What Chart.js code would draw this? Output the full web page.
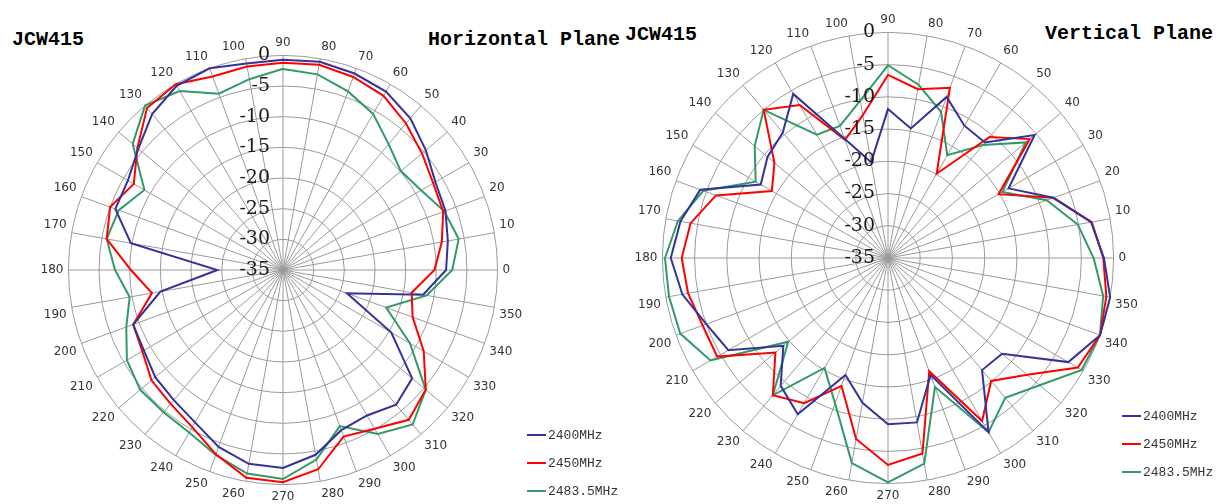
<!DOCTYPE html>
<html>
<head>
<meta charset="utf-8">
<script src="https://cdn.jsdelivr.net/npm/chart.js@4.4.0/dist/chart.umd.min.js"></script>
<style>
  html, body { margin: 0; padding: 0; background: #fff; }
  body { width: 1222px; height: 504px; position: relative; overflow: hidden; }
  .box { position: absolute; top: 0; height: 504px; }
  .title { position: absolute; font-family: 'Liberation Mono', monospace; font-weight: bold; font-size: 20px; line-height: 20px; color: #000; white-space: nowrap; }
  .legend { position: absolute; font-family: 'Liberation Mono', monospace; font-size: 13px; color: #333; }
  .legend div { height: 28px; display: flex; align-items: center; }
  .legend .line { display: inline-block; width: 19px; height: 2px; margin-right: 2px; }
</style>
</head>
<body>
<div class="title" style="left:12px; top:30px;">JCW415</div>
<div class="title" style="left:428px; top:30px;">Horizontal Plane</div>
<div class="title" style="left:625px; top:25px;">JCW415</div>
<div class="title" style="left:1045px; top:24px;">Vertical Plane</div>

<div class="box" style="left:0; width:566px;"><canvas id="hor"></canvas></div>
<div class="box" style="left:588px; width:600px;"><canvas id="ver"></canvas></div>

<div class="legend" id="legHor" style="left:527px; top:421px;"></div>
<div class="legend" id="legVer" style="left:1122px; top:402px;"></div>

<script>
// angles in degrees, data in dB
const angles = [0, 10, 20, 30, 40, 50, 60, 70, 80, 90, 100, 110, 120, 130, 140, 150, 160, 170,
                180, 190, 200, 210, 220, 230, 240, 250, 260, 270, 280, 290, 300, 310, 320, 330, 340, 350];

const hor2400 = [-8.4, -7.7, -6.8, -6.3, -4.6, -2.7, -1.4, -0.9, -0.5, -0.7, -0.8, 0, -0.3, -1.8, -4.2, -5.8, -5.9, -9.8,
                 -24.3, -14.7, -9.0, -8.8, -7.8, -7.3, -6.3, -4.3, -2.9, -2.7, -4.4, -7.2, -7.6, -6.3, -7.5, -14.6, -23.9, -11.8];
const hor2450 = [-10.3, -8.7, -7.2, -6.7, -5.4, -3.8, -2.2, -1.5, -1.0, -1.2, -1.3, -1.4, 0, -0.5, -4.0, -6.9, -5.0, -5.8,
                 -10.2, -13.3, -9.0, -8.5, -7.0, -6.5, -5.4, -3.0, -0.6, -0.4, -2.0, -6.1, -5.1, -3.1, -4.6, -8.5, -12.5, -13.7];
const hor2483 = [-7.4, -5.9, -7.0, -9.0, -9.9, -8.2, -5.6, -4.0, -2.6, -2.2, -3.4, -4.4, -1.3, 0, -3.0, -8.9, -6.5, -5.8,
                 -7.6, -9.6, -7.8, -5.6, -4.6, -4.7, -4.4, -2.9, -1.3, -0.9, -3.6, -7.9, -4.1, -2.1, -4.6, -11.1, -17.1, -11.2];

const ver2400 = [-1.5, -3.0, -7.7, -13.4, -5.3, -11.6, -11.3, -8.4, -14.6, -11.9, -19.9, -15.3, -5.6, -9.6, -10.6, -12.2, -4.0, -2.3,
                 -1.3, -2.6, -5.0, -6.4, -13.8, -9.1, -7.0, -15.7, -12.2, -9.2, -9.1, -15.7, -3.8, -12.3, -11.9, -2.7, 0, 0];
const ver2450 = [-1.6, -2.9, -7.7, -15.2, -6.3, -10.5, -19.9, -6.9, -8.4, -6.6, -12.5, -15.5, -7.6, -5.0, -12.0, -14.2, -6.6, -3.9,
                 -3.0, -3.5, -4.4, -4.4, -12.2, -7.2, -9.0, -13.9, -6.5, -2.9, -4.2, -16.3, -5.8, -10.1, -6.8, -1.0, 0, -0.6];
const ver2483 = [-3.1, -5.1, -8.8, -14.5, -7.1, -12.1, -16.6, -10.9, -7.7, -5.1, -10.2, -13.2, -12.9, -5.0, -8.0, -11.3, -4.5, -1.9,
                 -0.4, -0.5, -0.7, -3.2, -14.8, -7.2, -15.3, -11.0, -2.7, -0.2, -2.6, -13.7, -3.8, -6.7, -4.3, -0.3, 0, -1.1];

const radialTicks = [0, -5, -10, -15, -20, -25, -30, -35];
const seriesNames = ['2400MHz', '2450MHz', '2483.5MHz'];
const seriesColors = ['#333399', '#ff0000', '#339966'];

// radar goes clockwise from the top, polar plot has 90 on top and 0 on the right
const labelOrder = angles.map((a, i) => (90 - i * 10 + 360) % 360);

function pick(arr) {
    return labelOrder.map(a => arr[angles.indexOf(a)]);
}

const tickLabels = {
    id: 'tickLabels',
    afterDatasetsDraw(chart) {
        const s = chart.scales.r;
        const ctx = chart.ctx;
        ctx.save();
        ctx.font = '19px "DejaVu Serif"';
        ctx.fillStyle = '#1a1a1a';
        ctx.textAlign = 'right';
        ctx.textBaseline = 'middle';
        radialTicks.forEach(v => {
            const d = s.getDistanceFromCenterForValue(v);
            ctx.fillText(String(v), s.xCenter - 13, s.yCenter - d);
        });
        ctx.restore();
    }
};

function makeChart(id, series, padTop, padBottom) {
    const ctx = document.getElementById(id).getContext('2d');
    return new Chart(ctx, {
        type: 'radar',
        data: {
            labels: labelOrder.map(String),
            datasets: series.map((s, i) => ({
                label: seriesNames[i],
                data: pick(s),
                borderColor: seriesColors[i],
                borderWidth: 2,
                fill: false,
                pointRadius: 0,
                tension: 0
            }))
        },
        options: {
            responsive: true,
            maintainAspectRatio: false,
            animation: false,
            layout: { padding: { top: padTop, bottom: padBottom } },
            plugins: {
                legend: { display: false },
                tooltip: { enabled: false }
            },
            scales: {
                r: {
                    min: -35,
                    max: 0,
                    ticks: { stepSize: 5, display: false },
                    grid: { circular: true, color: '#9a9a9a', lineWidth: 1 },
                    angleLines: { color: '#9a9a9a', lineWidth: 1 },
                    pointLabels: {
                        font: { family: 'DejaVu Sans', size: 12 },
                        color: '#333',
                        padding: 5
                    }
                }
            }
        },
        plugins: [tickLabels]
    });
}

makeChart('hor', [hor2400, hor2450, hor2483], 36, 0);
makeChart('ver', [ver2400, ver2450, ver2483], 13, 1);

function makeLegend(id) {
    const el = document.getElementById(id);
    seriesNames.forEach((n, i) => {
        const row = document.createElement('div');
        row.innerHTML = '<span class="line" style="background:' + seriesColors[i] + '"></span>' + n;
        el.appendChild(row);
    });
}
makeLegend('legHor');
makeLegend('legVer');
</script>
</body>
</html>
